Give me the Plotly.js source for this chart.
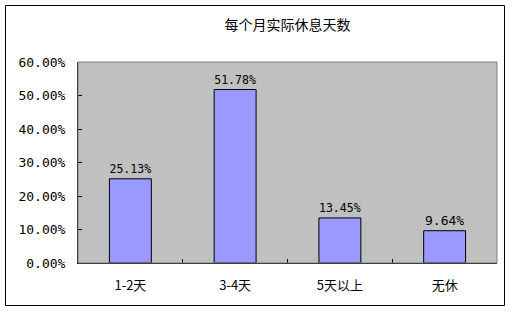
<!DOCTYPE html>
<html><head><meta charset="utf-8">
<script src="https://cdn.plot.ly/plotly-3.0.1.min.js"></script>
<style>html,body{margin:0;padding:0;background:#fff}#chart{width:513px;height:313px}</style>
</head><body><div id="chart"></div>
<script>
const categories = ['1-2天', '3-4天', '5天以上', '无休'];
const values = [0.2513, 0.5178, 0.1345, 0.0964];
const titleText = '每个月实际休息天数';
const fontFam = '"DejaVu Sans Mono", "Noto Sans CJK SC", monospace';

const trace = {
  type: 'bar', x: categories, y: values,
  marker: {color: '#9999FF', line: {color: '#000000', width: 1}},
  text: values.map(v => (v * 100).toFixed(2) + '%'),
  textposition: 'outside', cliponaxis: false,
  textfont: {family: fontFam, size: 13, color: '#000'},
  hoverinfo: 'none'
};
const W = 419, H = 201;
const layout = {
  width: 513, height: 313,
  margin: {l: 78, r: 16, t: 62, b: 50},
  paper_bgcolor: '#fff', plot_bgcolor: '#C0C0C0',
  showlegend: false, bargap: 0.6,
  font: {family: fontFam, size: 12, color: '#000'},
  title: {text: titleText, x: 0.5, xref: 'paper', y: 1 - 25 / 313, yanchor: 'middle',
          font: {family: '"Noto Sans CJK SC", sans-serif', size: 14, color: '#000'}},
  xaxis: {type: 'category', showline: true, linecolor: '#000', linewidth: 1, mirror: false,
          ticks: 'inside', tickson: 'boundaries', ticklen: 4, tickcolor: '#000',
          showgrid: false, tickfont: {family: '"Noto Sans CJK SC", sans-serif', size: 13}, ticklabelstandoff: 10},
  yaxis: {range: [0, 0.6], dtick: 0.1, tickformat: '.2%', showline: true, linecolor: '#000', linewidth: 1,
          ticks: 'inside', ticklen: 4, tickcolor: '#000', showgrid: false, zeroline: false,
          tickfont: {family: fontFam, size: 13}, ticklabelstandoff: 9},
  shapes: [
    {type: 'rect', xref: 'paper', yref: 'paper', x0: 0, x1: 1, y0: 0, y1: 1,
     line: {color: '#808080', width: 1}, fillcolor: 'rgba(0,0,0,0)', layer: 'above'},
    {type: 'rect', xref: 'paper', yref: 'paper', x0: (5.5 - 78) / W, x1: (504.5 - 78) / W,
     y0: (263 - 305.5) / H, y1: (263 - 5.5) / H, line: {color: '#000', width: 1}, fillcolor: 'rgba(0,0,0,0)'}
  ]
};
Plotly.newPlot('chart', [trace], layout, {displayModeBar: false, staticPlot: true});
</script></body></html>
